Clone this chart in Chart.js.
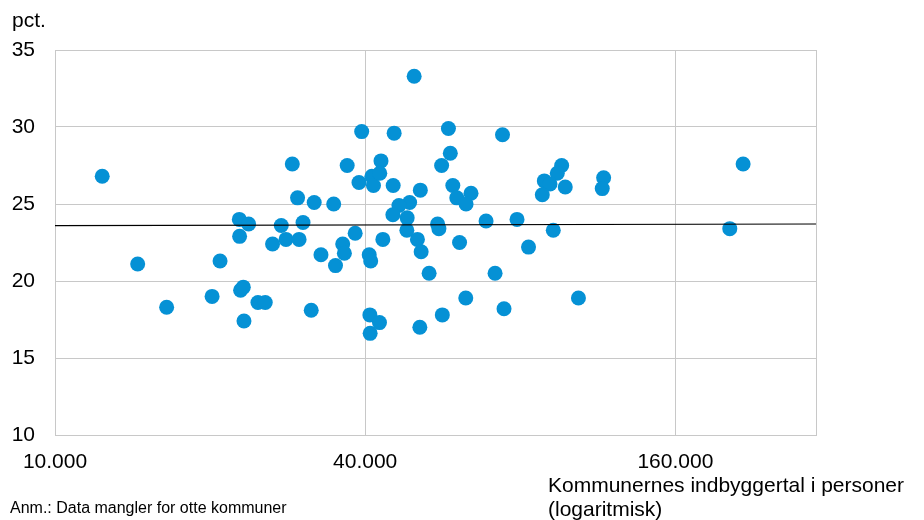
<!DOCTYPE html>
<html>
<head>
<meta charset="utf-8">
<script src="https://cdn.jsdelivr.net/npm/chart.js@4/dist/chart.umd.min.js"></script>
<style>
    body { margin: 0; background: #fff; }
    #wrap { width: 924px; height: 520px; position: relative; }
</style>
</head>
<body>
<div id="wrap"><canvas id="graphCanvas"></canvas></div>
<script>
// indbyggertal (x) og pct. (y) for hver kommune
var indbyggere = [
    12350, 14470, 16470, 20180, 20910, 22790, 23760, 22820, 22920, 23200,
    23270, 24770, 25590, 26440, 27490, 28080, 29770, 28880, 29570, 30300,
    31850, 31430, 32830, 34750, 35030, 36180, 36450, 36910, 38250, 39380,
    38910, 41220, 41510, 40730, 41000, 40850, 40900, 42930, 42700, 43290,
    42640, 49790, 45530, 58030, 73900, 58520, 56290, 45330, 51180, 59180,
    60240, 64190, 62790, 48790, 46520, 45270, 48260, 48190, 50520, 51370,
    55290, 55610, 68660, 78850, 92720, 60990, 83010, 53230, 71480, 62710,
    103760, 74400, 56470, 51070, 96260, 94390, 89080, 91370, 88280, 97820,
    116120, 115400, 216590, 204070
];
var pct = [
    26.8, 21.1, 18.3, 19.0, 21.3, 24.0, 23.7, 22.9, 19.4, 19.6,
    17.4, 18.6, 18.6, 22.4, 23.6, 22.7, 22.7, 27.6, 25.4, 23.8,
    25.1, 18.1, 21.7, 25.0, 21.0, 22.4, 21.8, 27.5, 23.1, 29.7,
    26.4, 26.8, 26.2, 21.7, 21.3, 17.8, 16.6, 27.8, 27.0, 22.7,
    17.3, 33.3, 29.6, 29.9, 29.5, 28.3, 27.5, 26.2, 25.9, 26.2,
    25.4, 25.7, 25.0, 25.1, 24.9, 24.3, 24.1, 23.3, 22.7, 21.9,
    23.7, 23.4, 23.9, 24.0, 23.3, 22.5, 22.2, 20.5, 20.5, 18.9,
    18.9, 18.2, 17.8, 17.0, 27.5, 27.0, 26.5, 26.3, 25.6, 26.1,
    26.7, 26.0, 27.6, 23.4
];
// tendenslinje
var trendX = [10000, 300000];
var trendY = [23.6, 23.7];

var xTicks = [10000, 40000, 160000, 300000];
var yTicks = [10, 15, 20, 25, 30, 35];

var punkter = [];
for (var i in indbyggere) {
    punkter.push({ x: indbyggere[i], y: pct[i] });
}
var trend = [];
for (var j in trendX) {
    trend.push({ x: trendX[j], y: trendY[j] });
}

function tusind(v) {
    return String(v).replace(/\B(?=(\d{3})+(?!\d))/g, '.');
}

var tekster = {
    id: 'tekster',
    afterDraw: function (chart) {
        var ctx = chart.ctx;
        ctx.save();
        ctx.fillStyle = '#000';
        ctx.textAlign = 'left';
        ctx.textBaseline = 'alphabetic';
        ctx.font = '21px "Liberation Sans", Arial, sans-serif';
        ctx.fillText('pct.', 12, 27);
        ctx.fillText('Kommunernes indbyggertal i personer', 548, 492);
        ctx.fillText('(logaritmisk)', 548, 516);
        ctx.font = '16px "Liberation Sans", Arial, sans-serif';
        ctx.fillText('Anm.: Data mangler for otte kommuner', 10, 513);
        ctx.restore();
    }
};

var chartdata = {
    datasets: [
        {
            type: 'line',
            label: 'Tendens',
            data: trend,
            borderColor: '#000000',
            borderWidth: 1.2,
            pointRadius: 0,
            fill: false,
            order: 0
        },
        {
            type: 'scatter',
            label: 'Kommuner',
            data: punkter,
            backgroundColor: '#0591d5',
            borderColor: '#0591d5',
            pointRadius: 7.5,
            pointBorderWidth: 0,
            order: 1
        }
    ]
};

var graphTarget = document.getElementById('graphCanvas');

var scatterGraph = new Chart(graphTarget, {
    type: 'scatter',
    data: chartdata,
    options: {
        responsive: true,
        maintainAspectRatio: false,
        animation: false,
        layout: { padding: { top: 50, right: 108, left: 0, bottom: 0 } },
        plugins: {
            legend: { display: false },
            tooltip: { enabled: false }
        },
        scales: {
            x: {
                type: 'logarithmic',
                min: 10000,
                max: 300000,
                afterBuildTicks: function (scale) {
                    scale.ticks = xTicks.map(function (v) { return { value: v }; });
                },
                afterFit: function (scale) { scale.height = 85; },
                grid: { color: '#c8c8c8', lineWidth: 1, drawTicks: false },
                border: { color: '#c8c8c8', width: 1 },
                ticks: {
                    color: '#000',
                    padding: 15,
                    maxRotation: 0,
                    autoSkip: false,
                    font: { family: '"Liberation Sans", Arial, sans-serif', size: 21 },
                    callback: function (v) {
                        return v === 300000 ? '' : tusind(v);
                    }
                }
            },
            y: {
                min: 10,
                max: 35,
                afterBuildTicks: function (scale) {
                    scale.ticks = yTicks.map(function (v) { return { value: v }; });
                },
                afterFit: function (scale) { scale.width = 55; },
                grid: { color: '#c8c8c8', lineWidth: 1, drawTicks: false },
                border: { color: '#c8c8c8', width: 1 },
                ticks: {
                    color: '#000',
                    padding: 20,
                    font: { family: '"Liberation Sans", Arial, sans-serif', size: 21 }
                }
            }
        }
    },
    plugins: [tekster]
});
</script>
</body>
</html>
